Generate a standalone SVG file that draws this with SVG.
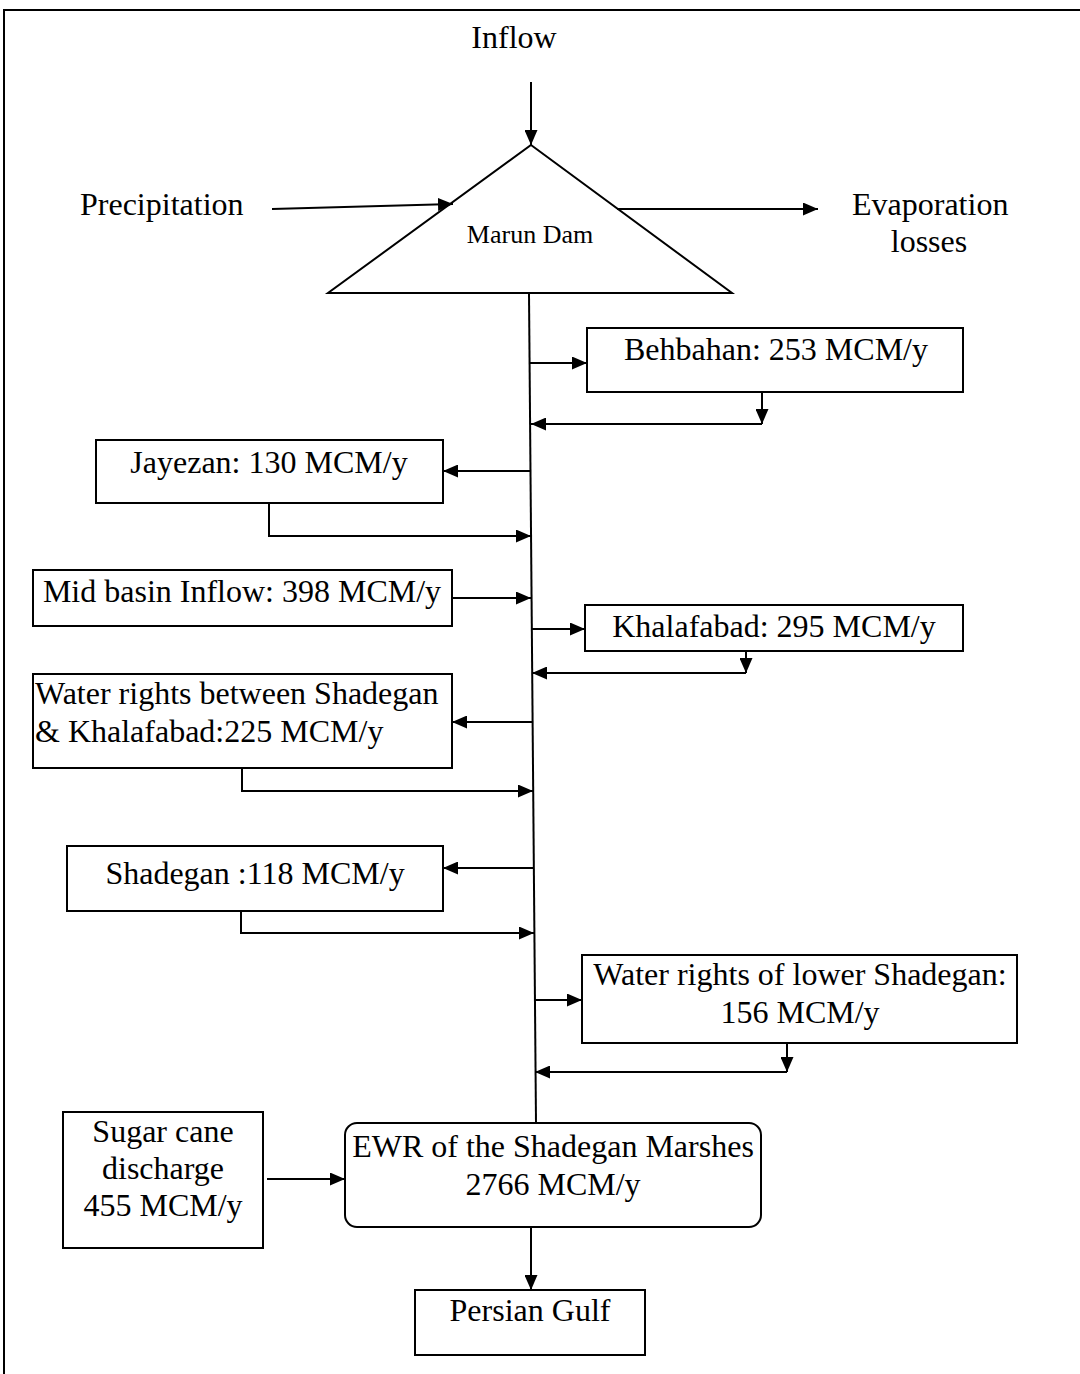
<svg xmlns="http://www.w3.org/2000/svg" width="1080" height="1374" viewBox="0 0 1080 1374">
<style>
  text { font-family: "Liberation Serif", "Times New Roman", serif; font-size: 32px; fill: #000; }
  .m { text-anchor: middle; }
  .box { fill: #fff; stroke: #000; stroke-width: 2; }
  .ln { fill: none; stroke: #000; stroke-width: 2; }
  .ar { fill: none; stroke: #000; stroke-width: 2; marker-end: url(#ah); }
</style>
<defs>
  <marker id="ah" markerUnits="userSpaceOnUse" viewBox="0 0 15 13" markerWidth="15" markerHeight="13" refX="15" refY="6.5" orient="auto">
    <path d="M0,0 L15,6.5 L0,13 z" fill="#000"/>
  </marker>
</defs>
<rect x="0" y="0" width="1080" height="1374" fill="#fff"/>
<rect x="4" y="10" width="1100" height="1400" fill="none" stroke="#000" stroke-width="2"/>

<g id="inflow"><text class="m" x="514" y="48">Inflow</text></g>
<g id="precipitation"><text x="80" y="215">Precipitation</text></g>
<g id="evaporation"><text x="852" y="215">Evaporation</text><text class="m" x="929" y="252">losses</text></g>
<g id="marun-dam">
  <polygon class="box" points="531,145 732,293 328,293"/>
  <text class="m" x="530" y="243" style="font-size:26px">Marun Dam</text>
</g>

<g id="connectors">
  <path class="ar" d="M531,82 L531,145"/>
  <path class="ar" d="M272,209 L453,204"/>
  <path class="ar" d="M617,209 L818,209"/>
  <path class="ln" d="M529,294 L536,1123"/>
  <path class="ar" d="M530,363 L587,363"/>
  <path class="ar" d="M762,392 L762,424"/>
  <path class="ar" d="M762,424 L531,424"/>
  <path class="ar" d="M531,471 L443,471"/>
  <path class="ar" d="M269,503 L269,536 L531,536"/>
  <path class="ar" d="M452,598 L531,598"/>
  <path class="ar" d="M531,629 L585,629"/>
  <path class="ar" d="M746,651 L746,673"/>
  <path class="ar" d="M746,673 L532,673"/>
  <path class="ar" d="M532,722 L452,722"/>
  <path class="ar" d="M242,768 L242,791 L533,791"/>
  <path class="ar" d="M534,868 L443,868"/>
  <path class="ar" d="M241,911 L241,933 L534,933"/>
  <path class="ar" d="M534,1000 L582,1000"/>
  <path class="ar" d="M787,1043 L787,1072"/>
  <path class="ar" d="M787,1072 L535,1072"/>
  <path class="ar" d="M267,1179 L345,1179"/>
  <path class="ar" d="M531,1227 L531,1290"/>
</g>

<g id="behbahan">
  <rect class="box" x="587" y="328" width="376" height="64"/>
  <text class="m" x="776" y="360">Behbahan: 253 MCM/y</text>
</g>
<g id="jayezan">
  <rect class="box" x="96" y="440" width="347" height="63"/>
  <text class="m" x="269" y="473">Jayezan: 130 MCM/y</text>
</g>
<g id="mid-basin">
  <rect class="box" x="33" y="570" width="419" height="56"/>
  <text class="m" x="242" y="602">Mid basin Inflow: 398 MCM/y</text>
</g>
<g id="khalafabad">
  <rect class="box" x="585" y="605" width="378" height="46"/>
  <text class="m" x="774" y="637">Khalafabad: 295 MCM/y</text>
</g>
<g id="water-rights-between">
  <rect class="box" x="33" y="674" width="419" height="94"/>
  <text x="35" y="704">Water rights between Shadegan</text>
  <text x="35" y="742">&amp; Khalafabad:225 MCM/y</text>
</g>
<g id="shadegan">
  <rect class="box" x="67" y="846" width="376" height="65"/>
  <text class="m" x="255" y="884">Shadegan :118 MCM/y</text>
</g>
<g id="lower-shadegan">
  <rect class="box" x="582" y="955" width="435" height="88"/>
  <text class="m" x="800" y="985">Water rights of lower Shadegan:</text>
  <text class="m" x="800" y="1023">156 MCM/y</text>
</g>
<g id="sugar-cane">
  <rect class="box" x="63" y="1112" width="200" height="136"/>
  <text class="m" x="163" y="1142">Sugar cane</text>
  <text class="m" x="163" y="1179">discharge</text>
  <text class="m" x="163" y="1216">455 MCM/y</text>
</g>
<g id="ewr">
  <rect class="box" x="345" y="1123" width="416" height="104" rx="12" ry="12"/>
  <text class="m" x="553" y="1157">EWR of the Shadegan Marshes</text>
  <text class="m" x="553" y="1195">2766 MCM/y</text>
</g>
<g id="persian-gulf">
  <rect class="box" x="415" y="1290" width="230" height="65"/>
  <text class="m" x="530" y="1321">Persian Gulf</text>
</g>
</svg>
